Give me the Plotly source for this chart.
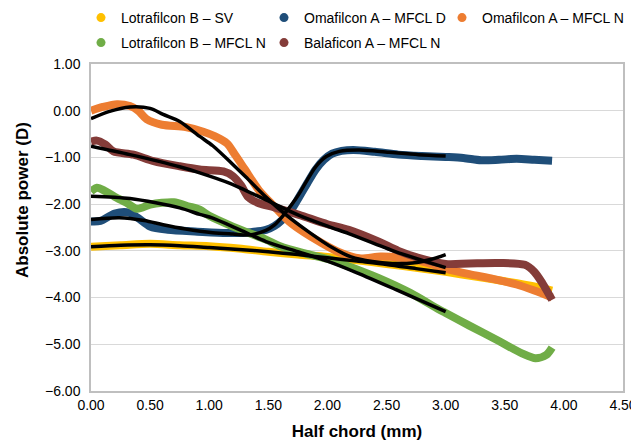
import plotly.graph_objects as go

# ---- data ----
names = ["Lotrafilcon B – SV", "Omafilcon A – MFCL D", "Omafilcon A – MFCL N",
         "Lotrafilcon B – MFCL N", "Balaficon A – MFCL N"]
colors = ["#FFC000", "#1F4E79", "#ED7D31", "#70AD47", "#843C39"]

sv_x = [0, 0.25, 0.5, 0.75, 1.0, 1.25, 1.5, 1.75, 2.0, 2.25, 2.5, 2.75, 3.0, 3.25, 3.5, 3.75, 3.9]
sv_y = [-2.91, -2.88, -2.85, -2.88, -2.9, -2.95, -3.02, -3.08, -3.13, -3.2, -3.28, -3.36, -3.45, -3.55, -3.65, -3.76, -3.85]

omd_x = [0, 0.08, 0.2, 0.32, 0.4, 0.5, 0.65, 0.9, 1.15, 1.35, 1.48, 1.55, 1.62, 1.7, 1.76, 1.83, 1.9, 1.97,
         2.04, 2.12, 2.22, 2.4, 2.6, 2.8, 3.0, 3.15, 3.3, 3.45, 3.6, 3.75, 3.9]
omd_y = [-2.37, -2.36, -2.2, -2.18, -2.3, -2.48, -2.55, -2.59, -2.62, -2.6, -2.55, -2.47, -2.33, -2.1, -1.85,
         -1.55, -1.26, -1.05, -0.92, -0.86, -0.84, -0.88, -0.94, -0.97, -0.99, -1.01, -1.06, -1.05, -1.03, -1.05, -1.07]

omn_x = [0, 0.1, 0.22, 0.33, 0.4, 0.47, 0.6, 0.8, 0.95, 1.05, 1.15, 1.22, 1.3, 1.42, 1.55, 1.68, 1.8, 1.93,
         2.1, 2.27, 2.45, 2.6, 2.75, 2.9, 3.0, 3.2, 3.4, 3.6, 3.75, 3.9]
omn_y = [0.0, 0.08, 0.14, 0.1, 0.0, -0.18, -0.3, -0.35, -0.45, -0.55, -0.7, -0.95, -1.25, -1.7, -2.05, -2.38,
         -2.6, -2.8, -3.03, -3.16, -3.12, -3.14, -3.2, -3.3, -3.38, -3.5, -3.6, -3.72, -3.85, -4.0]

lbn_x = [0, 0.05, 0.12, 0.2, 0.3, 0.39, 0.5, 0.6, 0.7, 0.83, 0.92, 1.0, 1.2, 1.48, 1.6, 1.8, 2.04, 2.2, 2.43,
         2.7, 2.94, 3.0, 3.2, 3.45, 3.65, 3.76, 3.85, 3.9]
lbn_y = [-1.73, -1.65, -1.72, -1.84, -1.97, -2.1, -2.01, -1.97, -1.96, -2.05, -2.12, -2.25, -2.48, -2.76, -2.9,
         -3.05, -3.2, -3.35, -3.58, -3.9, -4.25, -4.33, -4.6, -4.93, -5.2, -5.3, -5.23, -5.07]

bal_x = [0, 0.05, 0.12, 0.19, 0.36, 0.53, 0.75, 0.92, 1.12, 1.2, 1.27, 1.33, 1.42, 1.55, 1.76, 2.0, 2.18,
         2.43, 2.6, 2.77, 3.0, 3.2, 3.45, 3.67, 3.75, 3.82, 3.9]
bal_y = [-0.66, -0.64, -0.72, -0.87, -0.94, -1.08, -1.19, -1.26, -1.3, -1.4, -1.6, -1.85, -1.98, -2.07, -2.23,
         -2.43, -2.55, -2.8, -3.0, -3.15, -3.28, -3.27, -3.26, -3.3, -3.45, -3.7, -4.05]

# fitted (black) curves
fit_sv_x = [0, 0.25, 0.5, 0.75, 1.0, 1.25, 1.5, 1.75, 2.0, 2.25, 2.5, 2.75, 3.0]
fit_sv_y = [-2.91, -2.88, -2.87, -2.89, -2.93, -2.97, -3.02, -3.08, -3.15, -3.22, -3.29, -3.38, -3.47]

fit_omd_x = [0, 0.24, 0.45, 0.61, 0.8, 1.03, 1.2, 1.34, 1.48, 1.55, 1.62, 1.7, 1.76, 1.83, 1.9, 1.99, 2.1,
             2.27, 2.52, 2.77, 3.0]
fit_omd_y = [-2.33, -2.29, -2.35, -2.44, -2.53, -2.61, -2.64, -2.66, -2.56, -2.45, -2.26, -2.0, -1.78, -1.48,
             -1.2, -0.98, -0.87, -0.84, -0.89, -0.94, -0.97]

fit_omn_x = [0, 0.15, 0.33, 0.5, 0.61, 0.75, 0.92, 1.03, 1.2, 1.31, 1.48, 1.65, 1.85, 2.04, 2.2, 2.38, 2.55,
             2.72, 2.88, 3.0]
fit_omn_y = [-0.17, -0.02, 0.08, 0.05, -0.08, -0.23, -0.55, -0.75, -1.15, -1.42, -1.85, -2.23, -2.61, -2.93,
             -3.13, -3.23, -3.27, -3.26, -3.18, -3.08]

fit_lbn_x = [0, 0.33, 0.75, 0.92, 1.03, 1.26, 1.48, 1.75, 2.0, 2.25, 2.58, 3.0]
fit_lbn_y = [-1.83, -1.88, -2.08, -2.22, -2.3, -2.55, -2.8, -3.02, -3.22, -3.47, -3.83, -4.3]

fit_bal_x = [0, 0.33, 0.75, 0.92, 1.17, 1.48, 1.76, 2.01, 2.18, 2.58, 3.0]
fit_bal_y = [-0.76, -0.94, -1.2, -1.33, -1.55, -1.91, -2.24, -2.48, -2.63, -3.02, -3.36]

x_ticks = [0, 0.5, 1, 1.5, 2, 2.5, 3, 3.5, 4, 4.5]
y_ticks = [1, 0, -1, -2, -3, -4, -5, -6]

series = [(sv_x, sv_y), (omd_x, omd_y), (omn_x, omn_y), (lbn_x, lbn_y), (bal_x, bal_y)]
fits = [(fit_sv_x, fit_sv_y), (fit_omd_x, fit_omd_y), (fit_omn_x, fit_omn_y),
        (fit_lbn_x, fit_lbn_y), (fit_bal_x, fit_bal_y)]

FONT = "Liberation Sans, Arial, sans-serif"
W, H = 631, 435  # page body has an 8px margin
ML, MR, MT, MB = 83, 16, 56, 52
fig = go.Figure()

for (xs, ys), c in zip(series, colors):
    fig.add_trace(go.Scatter(x=xs, y=ys, mode="lines", showlegend=False,
                             line=dict(color=c, width=8, shape="spline", smoothing=0.8)))
for xs, ys in fits:
    fig.add_trace(go.Scatter(x=xs, y=ys, mode="lines", showlegend=False,
                             line=dict(color="#000000", width=3.5, shape="spline", smoothing=0.8)))

# one legend box per entry so the Excel-like grid can be reproduced
leg_pos = [(73, 10), (256, 10), (434, 10), (73, 35), (256, 35)]  # container px (left, row centre)
legends = {}
for i, (n, c) in enumerate(zip(names, colors)):
    key = "legend" if i == 0 else f"legend{i + 1}"
    fig.add_trace(go.Scatter(x=[None], y=[None], mode="markers", name=n,
                             marker=dict(symbol="circle", size=9, color=c), legend=key))
    lx, ly = leg_pos[i]
    legends[key] = dict(orientation="h", xanchor="left", yanchor="middle",
                        xref="container", yref="container", x=lx / W, y=1 - ly / H,
                        font=dict(family=FONT, size=14, color="#000000"),
                        bgcolor="rgba(0,0,0,0)", itemwidth=30)

fig.update_layout(
    width=W, height=H,
    margin=dict(l=ML, r=MR, t=MT, b=MB, autoexpand=False),
    paper_bgcolor="white", plot_bgcolor="white",
    font=dict(family=FONT, size=14, color="#000000"),
    xaxis=dict(range=[0, 4.5], tickvals=x_ticks, tickformat=".2f", showgrid=False,
               showline=True, linecolor="#BFBFBF", linewidth=1.5, mirror=True, ticks="",
               zeroline=False, tickfont=dict(size=14, family=FONT), ticklabeloverflow="allow",
               title=dict(text="<b>Half chord (mm)</b>", font=dict(size=17, family=FONT), standoff=14)),
    yaxis=dict(range=[-6, 1], tickvals=y_ticks, tickformat=".2f", showgrid=True,
               gridcolor="#D9D9D9", gridwidth=1.3, showline=True, linecolor="#BFBFBF",
               linewidth=1.5, mirror=True, ticks="", zeroline=False, ticklabelstandoff=6,
               tickfont=dict(size=14, family=FONT), ticklabeloverflow="allow"),
    annotations=[dict(text="<b>Absolute power (D)</b>", textangle=-90, showarrow=False,
                      xref="paper", yref="paper",
                      x=(14 - ML) / (W - ML - MR), y=1 - (192 - MT) / (H - MT - MB),
                      xanchor="center", yanchor="middle",
                      font=dict(size=17, family=FONT, color="#000000"))],
    **legends,
)

fig.write_html("out.html")
